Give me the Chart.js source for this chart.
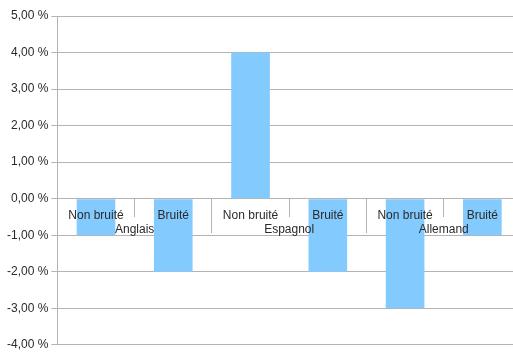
<!DOCTYPE html>
<html>
<head>
<meta charset="utf-8">
<script src="https://cdn.jsdelivr.net/npm/chart.js@4.4.0/dist/chart.umd.min.js"></script>
<style>
  html, body { margin: 0; padding: 0; background: #fff; overflow: hidden; }
  #wrap { width: 521px; height: 355px; }
</style>
</head>
<body>
<div id="wrap"><canvas id="myChart"></canvas></div>
<script>
const categories = ["Non bruité", "Bruité", "Non bruité", "Bruité", "Non bruité", "Bruité"];
const groups = ["Anglais", "Espagnol", "Allemand"];
const values = [-1, -2, 4, -2, -3, -1];
const yMin = -4, yMax = 5, yStep = 1;

const gridColor = "#b3b3b3";
const textColor = "#2a2a2a";
Chart.defaults.font.family = "'Liberation Sans', Arial, sans-serif";
Chart.defaults.font.size = 12;
Chart.defaults.color = textColor;

const ctx = document.getElementById("myChart");

const myChart = new Chart(ctx, {
  type: "bar",
  data: {
    labels: categories,
    datasets: [
      {
        data: values,
        backgroundColor: "#83caff",
        borderWidth: 0,
        barPercentage: 0.5,
        categoryPercentage: 1,
      },
    ],
  },
  options: {
    responsive: true,
    maintainAspectRatio: false,
    animation: false,
    layout: {
      padding: { top: 16, left: 4, right: 0, bottom: 0 },
    },
    plugins: {
      legend: { display: false },
      tooltip: { enabled: false },
    },
    scales: {
      y: {
        min: yMin,
        max: yMax,
        ticks: {
          stepSize: yStep,
          padding: 3,
          callback: (v) => v.toFixed(2).replace(".", ",") + " %",
        },
        grid: {
          color: gridColor,
          tickLength: 6,
        },
        border: { color: gridColor },
      },
      x: {
        position: { y: 0 },
        grid: {
          offset: true,
          drawOnChartArea: false,
          color: gridColor,
          tickLength: 18,
        },
        border: { color: gridColor },
        ticks: {
          z: 1,
          padding: -8,
          maxRotation: 0,
          autoSkip: false,
        },
      },
      x2: {
        type: "category",
        labels: groups,
        position: { y: 0 },
        offset: true,
        grid: {
          offset: true,
          drawOnChartArea: false,
          color: gridColor,
          tickLength: 34,
        },
        border: { display: false },
        ticks: {
          z: 1,
          padding: -10,
          maxRotation: 0,
          autoSkip: false,
        },
      },
    },
  },
});
</script>
</body>
</html>
